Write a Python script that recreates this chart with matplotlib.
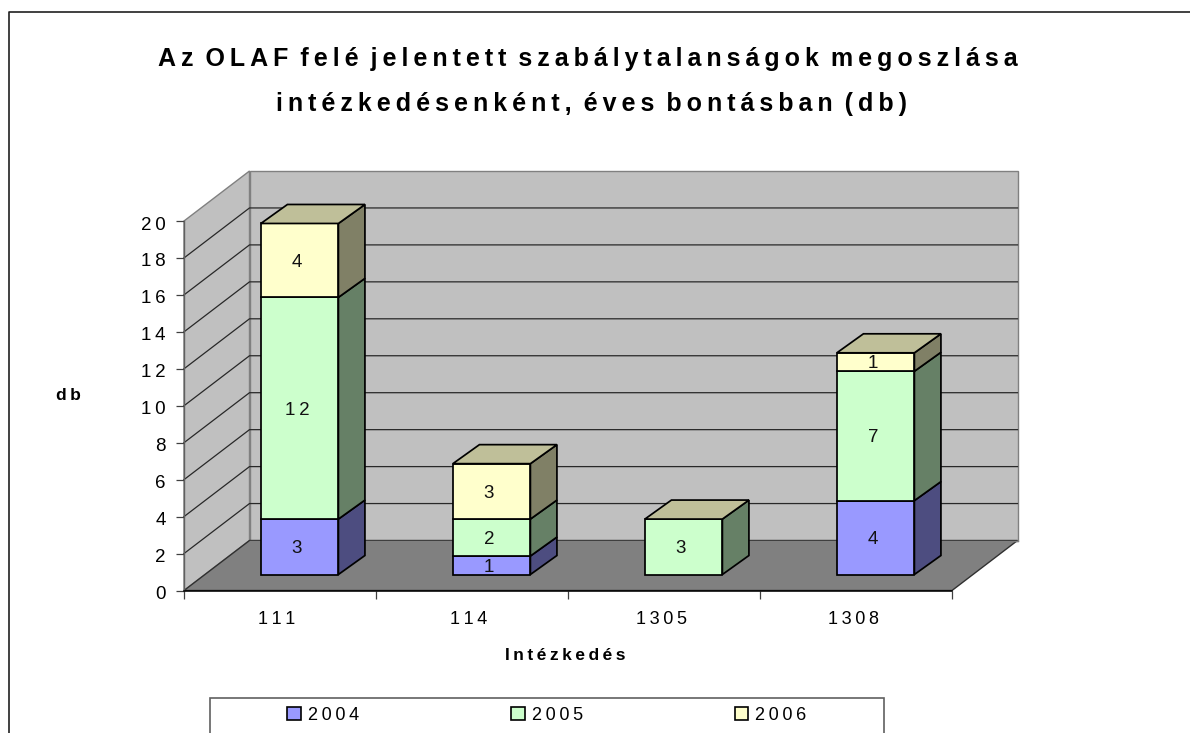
import matplotlib
matplotlib.use('Agg')
import matplotlib.pyplot as plt
from matplotlib.patches import Patch, Polygon, Rectangle
from matplotlib.lines import Line2D
from matplotlib.transforms import ScaledTranslation

# values
categories = ["111", "114", "1305", "1308"]
years = ["2004", "2005", "2006"]
v2004 = [3, 1, 0, 4]
v2005 = [12, 2, 3, 7]
v2006 = [4, 3, 0, 1]
y_ticks = list(range(0, 21, 2))

front_colors = ["#9999FF", "#CCFFCC", "#FFFFCC"]
side_colors = ["#4D4D80", "#668066", "#808066"]
top_color = "#BFBF99"  # lid always comes from the last series, even when it is 0

W, H = 1190, 733
plt.rcParams['font.family'] = ['Liberation Sans', 'DejaVu Sans']


def spaced(s):
    # the original has wide letter spacing, thin spaces keep the words readable
    return " \u2009".join("\u2009".join(w) for w in s.split(" "))


fig = plt.figure(figsize=(W / 100, H / 100), dpi=100, facecolor="white")
ax = fig.add_axes([184 / W, (H - 590.5) / H, 768 / W, 369.5 / H])
ax.set_xlim(-0.5, 3.5)
ax.set_ylim(0, 20)
ax.patch.set_visible(False)

# depth of the fake 3d box, in data units
depth_x = 65.5 / 192
depth_y = 50 / 18.475
x0, x1 = -0.5, 3.5


def wall(points, face, edge="#808080", z=1, lw=1.0):
    ax.add_patch(Polygon(points, closed=True, facecolor=face, edgecolor=edge,
                         linewidth=lw, zorder=z, clip_on=False))


# walls and floor
wall([(x0, 0), (x0 + depth_x, depth_y), (x0 + depth_x, 20 + depth_y), (x0, 20)], "#C0C0C0")
wall([(x0 + depth_x, depth_y), (x1 + depth_x, depth_y), (x1 + depth_x, 20 + depth_y),
      (x0 + depth_x, 20 + depth_y)], "#C0C0C0")
wall([(x0, 0), (x1, 0), (x1 + depth_x, depth_y), (x0 + depth_x, depth_y)], "#808080", edge="#303030")
ax.plot([x0 + depth_x, x1 + depth_x], [depth_y, depth_y], color="#808080", lw=1.0, zorder=1.5, clip_on=False)

for v in y_ticks[1:-1]:
    ax.plot([x0, x0 + depth_x, x1 + depth_x], [v, v + depth_y, v + depth_y],
            color="#282828", lw=0.9, zorder=2, clip_on=False)

# bars sit between 30% and 70% of the depth
bar_w = 77.5 / 192
fx = 0.3 * depth_x
fy = 0.32 * depth_y
bx = 0.405 * depth_x
by = 0.38 * depth_y

series = [v2004, v2005, v2006]
for i in range(len(categories)):
    left = i - bar_w / 2 + fx
    right = i + bar_w / 2 + fx
    bottom = 0
    for j, vals in enumerate(series):
        if vals[i] == 0:
            continue
        lo = bottom + fy
        hi = bottom + vals[i] + fy
        ax.add_patch(Polygon([(right, lo), (right + bx, lo + by), (right + bx, hi + by), (right, hi)],
                             closed=True, facecolor=side_colors[j], edgecolor="black",
                             linewidth=1.25, zorder=3, clip_on=False))
        ax.add_patch(Polygon([(left, lo), (right, lo), (right, hi), (left, hi)],
                             closed=True, facecolor=front_colors[j], edgecolor="black",
                             linewidth=1.25, zorder=4, clip_on=False))
        ax.text((left + right) / 2 - 0.014, (lo + hi) / 2 - 0.1, spaced(str(vals[i])), ha="center", va="center",
                fontsize=13.5, color="#111111", zorder=6)
        bottom += vals[i]
    hi = bottom + fy
    ax.add_patch(Polygon([(left, hi), (right, hi), (right + bx, hi + by), (left + bx, hi + by)],
                         closed=True, facecolor=top_color, edgecolor="black",
                         linewidth=1.25, zorder=5, clip_on=False))

# axes
ax.spines["top"].set_visible(False)
ax.spines["right"].set_visible(False)
ax.spines["left"].set_color("#606060")
ax.spines["left"].set_linewidth(1.0)
ax.spines["bottom"].set_color("black")
ax.spines["bottom"].set_linewidth(1.1)
ax.spines["bottom"].set_zorder(2.5)

ax.set_yticks(y_ticks)
ax.set_yticklabels([spaced(str(v)) for v in y_ticks], fontsize=13.5)
ax.set_xticks(range(len(categories)))
ax.set_xticklabels([spaced(c) for c in categories], fontsize=13)
ax.set_xticks([x0 + k for k in range(len(categories) + 1)], minor=True)
ax.tick_params(axis="x", which="major", length=0, pad=15)
ax.tick_params(axis="x", which="minor", length=5.5, width=0.9, color="#404040")
ax.tick_params(axis="y", length=5.5, width=0.9, color="#404040", pad=7.5)

# small nudges of the tick labels, in pixels at dpi 100
for lbl in ax.get_xticklabels():
    lbl.set_transform(lbl.get_transform() + ScaledTranslation(-3 / 100, 0, fig.dpi_scale_trans))
for lbl in ax.get_yticklabels():
    lbl.set_transform(lbl.get_transform() + ScaledTranslation(0, -2 / 100, fig.dpi_scale_trans))

# titles
title = ["Az OLAF felé jelentett szabálytalanságok megoszlása",
         "intézkedésenként, éves bontásban (db)"]
fig.text(588 / W, 1 - 59 / H, spaced(title[0]), ha="center", va="center", fontsize=18, fontweight="bold")
fig.text(592 / W, 1 - 104 / H, spaced(title[1]), ha="center", va="center", fontsize=18, fontweight="bold")
fig.text(565 / W, 1 - 655 / H, spaced("Intézkedés"), ha="center", va="center", fontsize=12.5, fontweight="bold")
fig.text(68 / W, 1 - 396 / H, spaced("db"), ha="center", va="center", fontsize=12.5, fontweight="bold")

# chart area border (only top and left are in the crop)
fig.add_artist(Line2D([9 / W, 9 / W, 1], [0, 1 - 12 / H, 1 - 12 / H], color="#202020", lw=1.2))

# legend box runs off the bottom of the picture
fig.add_artist(Rectangle((210 / W, -2 / H), 674 / W, 37 / H, facecolor="white", edgecolor="#606060", lw=1.2,
                         transform=fig.transFigure))
handles = [Patch(facecolor=c, edgecolor="black", linewidth=1.2) for c in front_colors]
fig.legend(handles, [spaced(y) for y in years], ncol=3, frameon=False,
           loc="center", bbox_to_anchor=(547 / W, 1 - 715 / H), fontsize=13,
           handlelength=0.75, handleheight=0.75, handletextpad=0.4, columnspacing=8.4,
           borderpad=0, borderaxespad=0)

fig.savefig("out.png", dpi=100)
